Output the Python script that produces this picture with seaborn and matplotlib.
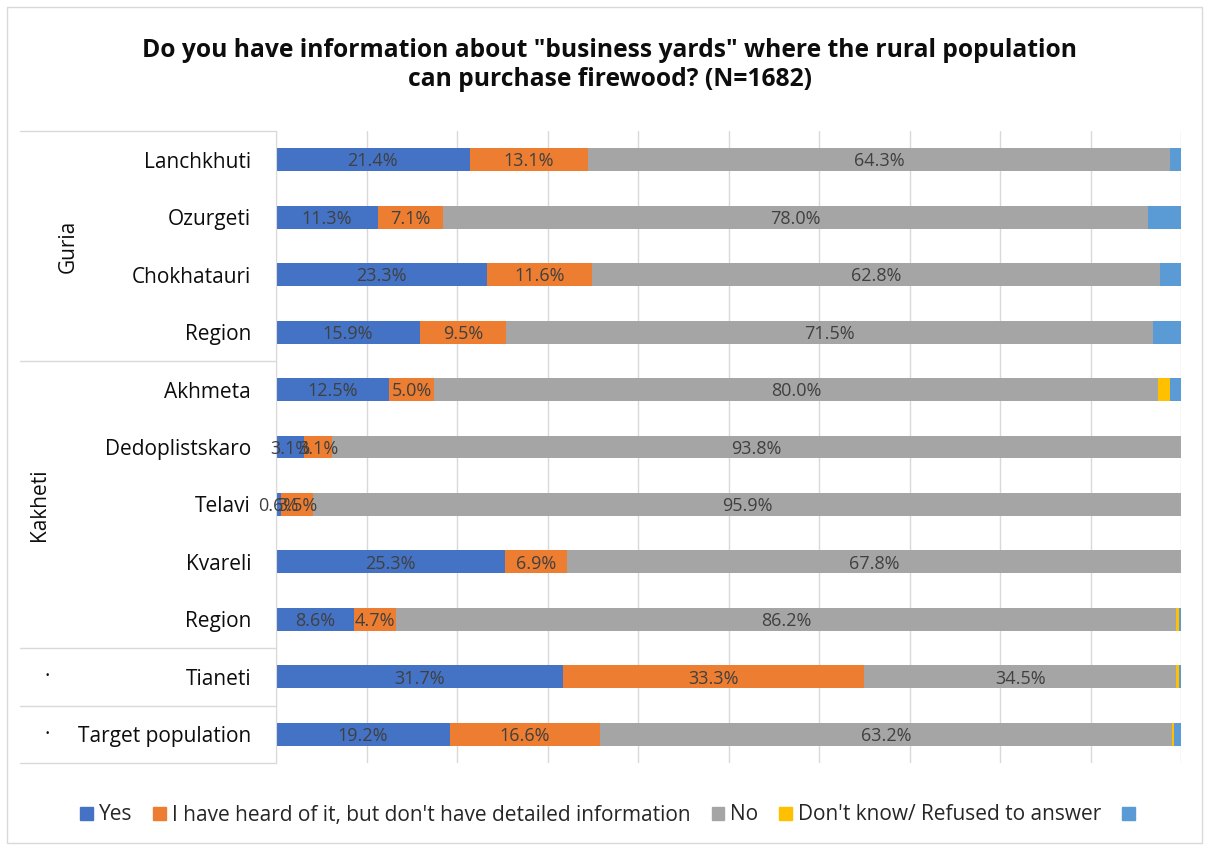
import pandas as pd
import matplotlib.pyplot as plt
import matplotlib.patches as mpatches
import seaborn as sns

# Data (percent)
rows = ['Lanchkhuti', 'Ozurgeti', 'Chokhatauri', 'Region',
        'Akhmeta', 'Dedoplistskaro', 'Telavi', 'Kvareli', 'Region',
        'Tianeti', 'Target population']
yes = [21.4, 11.3, 23.3, 15.9, 12.5, 3.1, 0.6, 25.3, 8.6, 31.7, 19.2]
heard = [13.1, 7.1, 11.6, 9.5, 5.0, 3.1, 3.5, 6.9, 4.7, 33.3, 16.6]
no = [64.3, 78.0, 62.8, 71.5, 80.0, 93.8, 95.9, 67.8, 86.2, 34.5, 63.2]
dont_know = [0.0, 0.0, 0.0, 0.0, 1.3, 0.0, 0.0, 0.0, 0.3, 0.3, 0.2]
other = [1.2, 3.6, 2.3, 3.1, 1.2, 0.0, 0.0, 0.0, 0.2, 0.2, 0.8]

series_names = ['Yes', "I have heard of it, but don't have detailed information",
                'No', "Don't know/ Refused to answer", '']
series_colors = ['#4472C4', '#ED7D31', '#A5A5A5', '#FFC000', '#5B9BD5']

groups = ['Guria', 'Kakheti', '·', '·']
group_sizes = [4, 5, 1, 1]

sns.set_style('white')
plt.rcParams['font.family'] = ['Open Sans', 'DejaVu Sans']

df = pd.DataFrame({'row': [f'r{i}' for i in range(len(rows))],
                   'yes': yes, 'heard': heard, 'no': no,
                   'dont_know': dont_know, 'other': other})
cols = ['yes', 'heard', 'no', 'dont_know', 'other']
cum = df[cols].cumsum(axis=1)

fig = plt.figure(figsize=(12.09, 8.5), dpi=100)
ax = fig.add_axes([276 / 1209, 1 - 763 / 850, 905 / 1209, 632 / 850])

# stacked bars: draw cumulative totals from the last series back to the first
for col, color in reversed(list(zip(cols, series_colors))):
    sns.barplot(x=cum[col], y=df['row'], order=df['row'], color=color,
                saturation=1, width=0.4, orient='h', errorbar=None,
                linewidth=0, ax=ax)

# data labels for the first three series
for i in range(len(rows)):
    for col in cols[:3]:
        v = df.loc[i, col]
        ax.text(cum.loc[i, col] - v / 2, i + 0.03, f'{v:.1f}%', ha='center',
                va='center', fontsize=13, color='#404040')

ax.set_xlim(0, 100)
ax.set_ylim(len(rows) - 0.5, -0.5)
ax.set_xticks(range(0, 101, 10))
ax.set_xticklabels([])
ax.set_yticks(range(len(rows)))
ax.set_yticklabels(rows, fontsize=15, color='#0D0D0D')
ax.tick_params(axis='y', length=0, pad=18)
ax.tick_params(axis='x', length=0)
ax.set_xlabel('')
ax.set_ylabel('')
ax.grid(axis='x', color='#D9D9D9', linewidth=1)
ax.set_axisbelow(True)
for s in ['top', 'right', 'bottom']:
    ax.spines[s].set_visible(False)
ax.spines['left'].set_color('#D9D9D9')

# multi-level category axis: group separators and labels
trans = ax.get_yaxis_transform()
x0 = (20 - 276) / 905
edge = -0.5
ax.plot([x0, 0], [edge, edge], color='#D9D9D9', lw=1, transform=trans, clip_on=False)
group_x = [(68 - 276) / 905, (40 - 276) / 905, (47 - 276) / 905, (47 - 276) / 905]
for name, size, gx in zip(groups, group_sizes, group_x):
    mid = edge + size / 2
    edge += size
    ax.plot([x0, 0], [edge, edge], color='#D9D9D9', lw=1, transform=trans, clip_on=False)
    rot = 90 if name != '·' else 0
    ax.text(gx, mid, name, rotation=rot, ha='center', va='center',
            fontsize=15, color='#0D0D0D', transform=trans)

fig.text(0.5045, 1 - 65 / 850,
         'Do you have information about "business yards" where the rural population\n'
         'can purchase firewood? (N=1682)',
         ha='center', va='center', fontsize=17.7, fontweight='bold',
         linespacing=1.25, color='#0D0D0D')

handles = [mpatches.Patch(color=c) for c in series_colors]
fig.legend(handles, series_names, loc='center', bbox_to_anchor=(0.505, 1 - 815 / 850),
           ncol=5, frameon=False, fontsize=15, handlelength=0.6, handleheight=0.6,
           handletextpad=0.3, columnspacing=1.0)

fig.patches.append(mpatches.Rectangle((7 / 1209, 7 / 850), 1195 / 1209, 836 / 850,
                                      transform=fig.transFigure, fill=False,
                                      edgecolor='#D9D9D9', linewidth=1))

fig.savefig('out.png', dpi=100, facecolor='white')
